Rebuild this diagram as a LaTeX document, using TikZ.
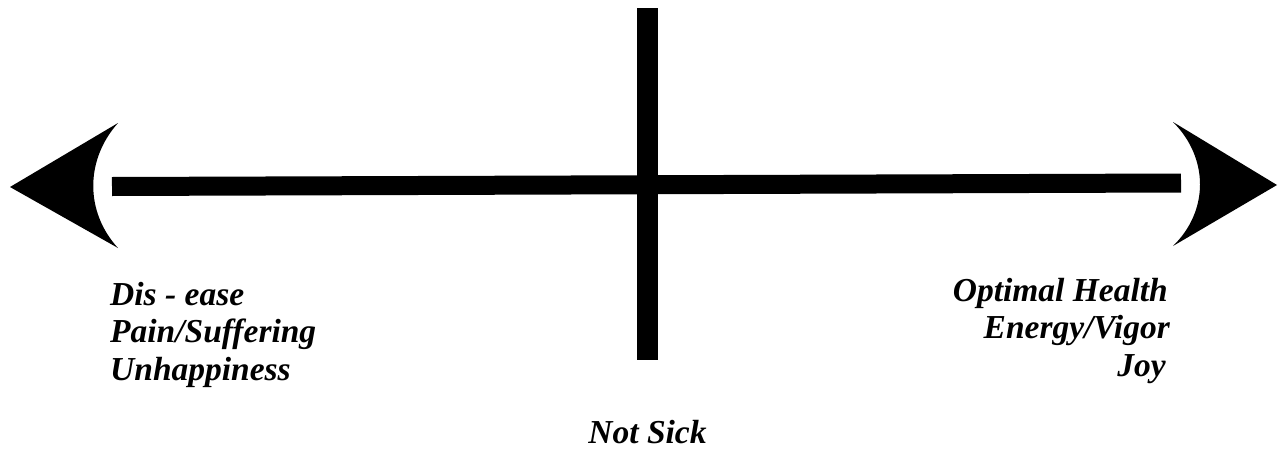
\documentclass[tikz,border=0pt]{standalone}
\usepackage{fontspec}
\setmainfont{Liberation Serif}
\begin{document}
\begin{tikzpicture}[x=1pt,y=-1pt,
  lbl/.style={inner sep=0pt,font=\fontsize{33.5}{37.5}\selectfont\bfseries\itshape},
  bar/.style={line width=19pt,black},
  head/.style={fill=black,draw=none}]
\useasboundingbox (0,0) rectangle (1278,450);
% named points
\coordinate (hl) at (112,186.5);
\coordinate (hr) at (1181,183);
\coordinate (vt) at (647.5,8);
\coordinate (vb) at (647.5,360);
% bars
\draw[bar] (hl) -- (hr);
\draw[line width=21pt] (vt) -- (vb);
% arrowheads
\fill[head] (10,187) -- (118,123) .. controls (85,160) and (85,212) .. (118,248) -- cycle;
\fill[head] (1277,185) -- (1173,122) .. controls (1209,158) and (1209,211) .. (1173,246) -- cycle;
% labels
\node[lbl,anchor=base west] (l1) at (110,305) {Dis - ease};
\node[lbl,anchor=base west] (l2) at (110,342.5) {Pain/Suffering};
\node[lbl,anchor=base west] (l3) at (110,380) {Unhappiness};
\node[lbl,anchor=base east] (r1) at (1168,301) {Optimal Health};
\node[lbl,anchor=base east] (r2) at (1170,338.5) {Energy/Vigor};
\node[lbl,anchor=base east] (r3) at (1166,376) {Joy};
\node[lbl,anchor=base] (ns) at (647.5,443) {Not Sick};
\end{tikzpicture}
\end{document}
